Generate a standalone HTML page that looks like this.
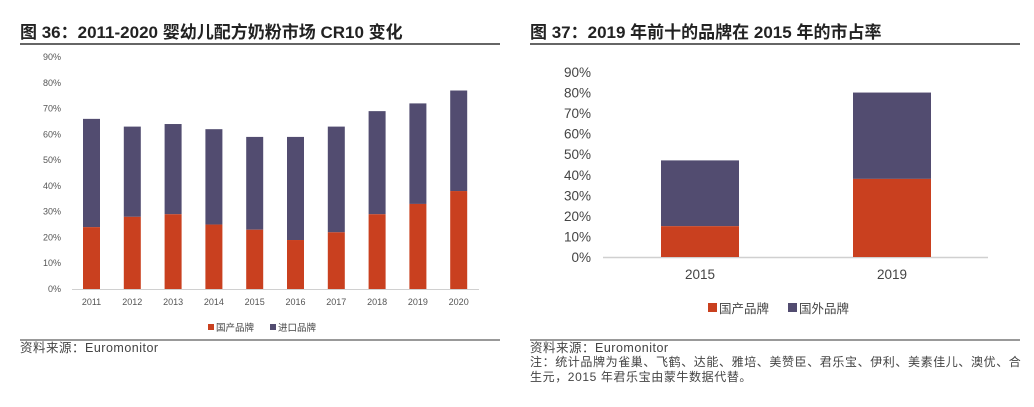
<!DOCTYPE html>
<html><head><meta charset="utf-8"><style>
body{margin:0;background:#fff;width:1034px;height:407px;overflow:hidden;font-family:"Liberation Sans","Noto Sans CJK SC",sans-serif}
svg{position:absolute;left:0;top:0}
</style></head><body>
<svg width="1034" height="407" xmlns="http://www.w3.org/2000/svg" id="svg">
<g id="left">
<text x="20" y="38" font-size="17" font-weight="bold" fill="#222">图 36：2011-2020 婴幼儿配方奶粉市场 CR10 变化</text>
<line x1="20" y1="44" x2="500" y2="44" stroke="#333" stroke-width="1.5"/>
<line x1="72" y1="289.5" x2="479" y2="289.5" stroke="#d0d0d0" stroke-width="1"/>
<line x1="20" y1="340" x2="500" y2="340" stroke="#333" stroke-width="1"/>
<text x="20" y="352" font-size="12.5" letter-spacing="0.5" fill="#444">资料来源：Euromonitor</text>
<rect x="208" y="324" width="6" height="6" fill="#c9401f"/>
<text x="216" y="331" font-size="9.5" fill="#444">国产品牌</text>
<rect x="270" y="324" width="6" height="6" fill="#524c70"/>
<text x="278" y="331" font-size="9.5" fill="#444">进口品牌</text>
</g>
<g id="right">
<text x="530" y="38" font-size="17" font-weight="bold" fill="#222">图 37：2019 年前十的品牌在 2015 年的市占率</text>
<line x1="530" y1="44" x2="1020" y2="44" stroke="#333" stroke-width="1.5"/>
<line x1="603" y1="257.5" x2="988" y2="257.5" stroke="#d0d0d0" stroke-width="1.5"/>
<line x1="530" y1="340" x2="1020" y2="340" stroke="#333" stroke-width="1"/>
<text x="530" y="352" font-size="12.5" letter-spacing="0.5" fill="#444">资料来源：Euromonitor</text>
<text x="530" y="366" font-size="12" letter-spacing="0.6" fill="#444">注：统计品牌为雀巢、飞鹤、达能、雅培、美赞臣、君乐宝、伊利、美素佳儿、澳优、合</text>
<text x="530" y="381" font-size="12" letter-spacing="0.6" fill="#444">生元，2015 年君乐宝由蒙牛数据代替。</text>
<rect x="708" y="303" width="9" height="9" fill="#c9401f"/>
<text x="719" y="313" font-size="12.5" fill="#444">国产品牌</text>
<rect x="788" y="303" width="9" height="9" fill="#524c70"/>
<text x="799" y="313" font-size="12.5" fill="#444">国外品牌</text>
</g>
</svg>
<script>
const years36 = ['2011','2012','2013','2014','2015','2016','2017','2018','2019','2020'];
const domestic36 = [24,28,29,25,23,19,22,29,33,38];
const total36 = [66,63,64,62,59,59,63,69,72,77];
const ticks36 = ['0%','10%','20%','30%','40%','50%','60%','70%','80%','90%'];
const years37 = ['2015','2019'];
const domestic37 = [15,38];
const total37 = [47,80];
const ticks37 = ['0%','10%','20%','30%','40%','50%','60%','70%','80%','90%'];

const NS='http://www.w3.org/2000/svg';
function mk(tag,attrs,parent,txt){const e=document.createElementNS(NS,tag);for(const k in attrs)e.setAttribute(k,attrs[k]);if(txt!==undefined)e.textContent=txt;parent.appendChild(e);return e;}
const L=document.getElementById('left'), R=document.getElementById('right');

const y36=v=>289-v*(232/90);
const x36=i=>91.5+i*40.8;
ticks36.forEach((t,i)=>{
  const e=mk('text',{x:61,y:y36(i*10)+3,'font-size':9,fill:'#555','text-anchor':'end'},L,t);
  
  
});
years36.forEach((yr,i)=>{
  const cx=x36(i), w=17;
  const imp=mk('rect',{x:cx-w/2,y:y36(total36[i]),width:w,height:y36(domestic36[i])-y36(total36[i]),fill:'#524c70'},L);
  
  
  const dom=mk('rect',{x:cx-w/2,y:y36(domestic36[i]),width:w,height:y36(0)-y36(domestic36[i]),fill:'#c9401f'},L);
  
  
  const lb=mk('text',{x:cx,y:305,'font-size':9,fill:'#555','text-anchor':'middle'},L,yr);
  
  
});

const y37=v=>257-v*(185/90);
const x37=i=>700+i*192;
ticks37.forEach((t,i)=>{
  const e=mk('text',{x:591,y:y37(i*10)+5,'font-size':13.5,fill:'#444','text-anchor':'end'},R,t);
  
  
});
years37.forEach((yr,i)=>{
  const cx=x37(i), w=78;
  const imp=mk('rect',{x:cx-w/2,y:y37(total37[i]),width:w,height:y37(domestic37[i])-y37(total37[i]),fill:'#524c70'},R);
  
  
  const dom=mk('rect',{x:cx-w/2,y:y37(domestic37[i]),width:w,height:y37(0)-y37(domestic37[i]),fill:'#c9401f'},R);
  
  
  const lb=mk('text',{x:cx,y:279,'font-size':13.5,fill:'#444','text-anchor':'middle'},R,yr);
  
  
});
</script>
</body></html>
